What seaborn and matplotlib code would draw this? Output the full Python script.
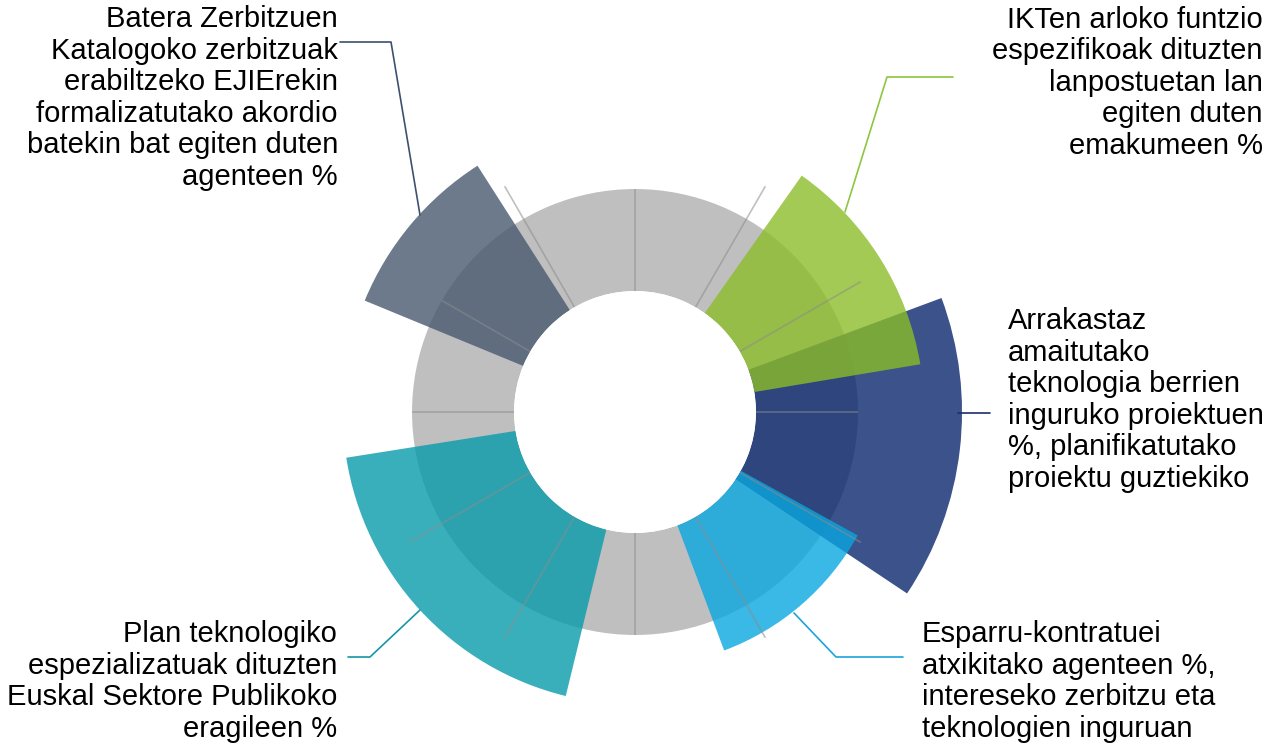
import numpy as np
import seaborn as sns
import matplotlib.pyplot as plt
from matplotlib.lines import Line2D

sns.set_theme(style='white')
plt.rcParams['font.family'] = ['Liberation Sans', 'DejaVu Sans']

# Indicators (Basque labels), bar lengths in ring units (grey ring = 100)
labels = [
    'Batera Zerbitzuen\nKatalogoko zerbitzuak\nerabiltzeko EJIErekin\nformalizatutako akordio\nbatekin bat egiten duten\nagenteen %',
    'IKTen arloko funtzio\nespezifikoak dituzten\nlanpostuetan lan\negiten duten\nemakumeen %',
    'Arrakastaz\namaitutako\nteknologia berrien\ninguruko proiektuen\n%, planifikatutako\nproiektu guztiekiko',
    'Esparru-kontratuei\natxikitako agenteen %,\nintereseko zerbitzu eta\nteknologien inguruan',
    'Plan teknologiko\nespezializatuak dituzten\nEuskal Sektore Publikoko\neragileen %',
]
values = [168, 165, 202, 131, 168]
theta_start = [122.6, 9.5, -33.7, -69.5, 189.0]
theta_end = [157.6, 54.8, 20.4, -29.0, 256.3]
ring_value = 100

colors = ['#47596F', '#8BBD29', '#0A276D', '#09A6E0', '#099BAC']
line_colors = ['#3E5070', '#8DC63F', '#1A2F6E', '#1AA3DC', '#1596A6']

W, H = 1283, 748
fig = plt.figure(figsize=(W / 100, H / 100), dpi=100)

# polar axes placed so that the centre sits at (635, 412) px
hole = 118.6
rmax = 210
px_per_unit = 1.02
half = px_per_unit * (rmax + hole)
cx, cy = 635, 412
ax = fig.add_axes([(cx - half) / W, (H - cy - half) / H, 2 * half / W, 2 * half / H],
                  projection='polar')
ax.set_rorigin(-hole)
ax.set_ylim(0, rmax)
ax.set_axis_off()

# grey background ring
ax.bar(np.pi, ring_value, width=2 * np.pi, bottom=0, color='#BFBFBF',
       linewidth=0, zorder=1)

# coloured sectors, dark blue first so green and light blue sit on top
order = [2, 0, 4, 1, 3]
for i in order:
    t0, t1 = np.deg2rad(theta_start[i]), np.deg2rad(theta_end[i])
    ax.bar((t0 + t1) / 2, values[i], width=t1 - t0, bottom=0,
           color=colors[i], alpha=0.8, linewidth=0, zorder=2)

# radial guide lines every 30 degrees
for a in range(0, 360, 30):
    length = ring_value if a % 90 == 0 or a == 150 else 137
    ax.vlines(np.deg2rad(a), 0, length, color='#8C8C8C', alpha=0.55,
              linewidth=1.2, zorder=3)

# leader lines (figure pixels)
leaders = [
    [(340, 42), (391, 42), (420, 215)],
    [(953, 77), (887, 77), (845, 212)],
    [(958, 413), (990, 413)],
    [(794, 613), (836, 657), (903, 657)],
    [(348, 657), (370, 657), (420, 610)],
]
for pts, c in zip(leaders, line_colors):
    xs = [p[0] / W for p in pts]
    ys = [1 - p[1] / H for p in pts]
    fig.add_artist(Line2D(xs, ys, transform=fig.transFigure, color=c, linewidth=1.2))

# label text, anchored at the baseline of the last line
text_pos = [(338, 185, 'right'), (1263, 154, 'right'), (1008, 487, 'left'),
            (922, 737, 'left'), (337, 737, 'right')]
for lab, (x, y, ha) in zip(labels, text_pos):
    fig.text(x / W, 1 - y / H, lab, ha=ha, va='baseline', multialignment=ha,
             fontsize=21, color='black', linespacing=1.16)

fig.savefig('out.png', dpi=100)
